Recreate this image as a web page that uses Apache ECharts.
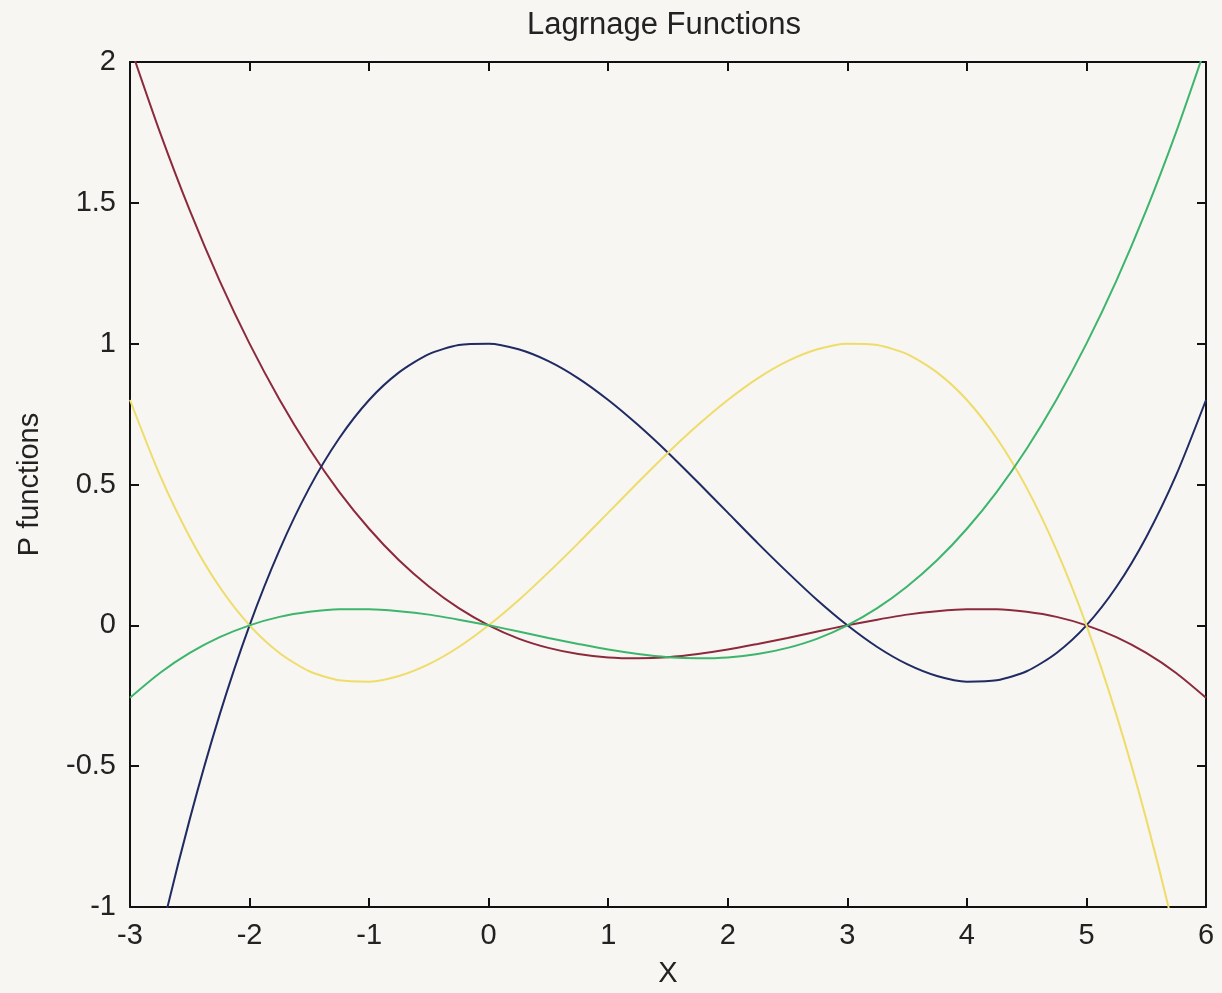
<!DOCTYPE html>
<html>
<head>
<meta charset="utf-8">
<title>Lagrnage Functions</title>
<script src="https://cdn.jsdelivr.net/npm/echarts@6/dist/echarts.min.js"></script>
<style>
  html, body { margin: 0; padding: 0; background: #f7f6f2; }
  #chart { width: 1222px; height: 993px; }
</style>
</head>
<body>
<div id="chart"></div>
<script>
// x samples read along the axis
var xs = [-3, -2.75, -2.5, -2.25, -2, -1.75, -1.5, -1.25, -1, -0.75, -0.5, -0.25, 0,
  0.25, 0.5, 0.75, 1, 1.25, 1.5, 1.75, 2, 2.25, 2.5, 2.75, 3, 3.25, 3.5, 3.75, 4,
  4.25, 4.5, 4.75, 5, 5.25, 5.5, 5.75, 6];

// red curve (starts high on the left)
var redVals = [2.057, 1.751, 1.473, 1.223, 1.0, 0.802, 0.627, 0.474, 0.343, 0.231, 0.138, 0.061, 0,
  -0.047, -0.080, -0.102, -0.114, -0.117, -0.113, -0.102, -0.086, -0.066, -0.045, -0.022, 0,
  0.020, 0.038, 0.050, 0.057, 0.057, 0.048, 0.030, 0, -0.042, -0.098, -0.169, -0.257];

// blue curve (peak 1 at x=0)
var blueVals = [-1.6, -1.114, -0.688, -0.317, 0, 0.267, 0.488, 0.664, 0.8, 0.898, 0.963, 0.995, 1,
  0.980, 0.938, 0.877, 0.8, 0.711, 0.613, 0.508, 0.4, 0.292, 0.188, 0.089, 0,
  -0.077, -0.138, -0.180, -0.2, -0.195, -0.163, -0.098, 0, 0.136, 0.313, 0.533, 0.8];

// yellow curve (peak 1 at x=3)
var yellowVals = [0.8, 0.533, 0.313, 0.136, 0, -0.098, -0.163, -0.195, -0.2, -0.180, -0.138, -0.077, 0,
  0.089, 0.188, 0.292, 0.4, 0.508, 0.613, 0.711, 0.8, 0.877, 0.938, 0.980, 1,
  0.995, 0.963, 0.898, 0.8, 0.664, 0.488, 0.267, 0, -0.317, -0.688, -1.114, -1.6];

// green curve (rises on the right)
var greenVals = [-0.257, -0.169, -0.098, -0.042, 0, 0.030, 0.048, 0.057, 0.057, 0.050, 0.038, 0.020, 0,
  -0.022, -0.045, -0.066, -0.086, -0.102, -0.113, -0.117, -0.114, -0.102, -0.080, -0.047, 0,
  0.061, 0.138, 0.231, 0.343, 0.474, 0.627, 0.802, 1.0, 1.223, 1.473, 1.751, 2.057];

function pairs(vals) {
  return xs.map(function (x, i) { return [x, vals[i]]; });
}

var font = 'Liberation Sans';
var ink = '#222';

var chart = echarts.init(document.getElementById('chart'));

function lineSeries(name, vals, color) {
  return {
    name: name,
    type: 'line',
    data: pairs(vals),
    smooth: 0.25,
    showSymbol: false,
    clip: true,
    lineStyle: { color: color, width: 2 },
    itemStyle: { color: color }
  };
}

var boxLine = { show: true, onZero: false, lineStyle: { color: '#111', width: 2 } };
var boxTick = { show: true, inside: true, length: 9, lineStyle: { color: '#111', width: 2 } };

chart.setOption({
  backgroundColor: '#f7f6f2',
  animation: false,
  title: {
    text: 'Lagrnage Functions',
    left: 522,
    top: 5,
    textStyle: { fontFamily: font, fontSize: 31, fontWeight: 'normal', color: ink }
  },
  grid: { left: 130, top: 62, width: 1076, height: 845 },
  xAxis: [{
    type: 'value',
    min: -3, max: 6, interval: 1,
    name: 'X',
    nameLocation: 'middle',
    nameGap: 52,
    nameTextStyle: { fontFamily: font, fontSize: 29, color: ink },
    axisLine: boxLine,
    axisTick: boxTick,
    axisLabel: { fontFamily: font, fontSize: 29, color: ink, margin: 14 },
    splitLine: { show: false }
  }, {
    type: 'value',
    position: 'top',
    min: -3, max: 6, interval: 1,
    axisLine: boxLine,
    axisTick: boxTick,
    axisLabel: { show: false },
    splitLine: { show: false }
  }],
  yAxis: [{
    type: 'value',
    min: -1, max: 2, interval: 0.5,
    name: 'P functions',
    nameLocation: 'middle',
    nameGap: 86,
    nameTextStyle: { fontFamily: font, fontSize: 29, color: ink },
    axisLine: boxLine,
    axisTick: boxTick,
    axisLabel: { fontFamily: font, fontSize: 29, color: ink, margin: 14 },
    splitLine: { show: false }
  }, {
    type: 'value',
    position: 'right',
    min: -1, max: 2, interval: 0.5,
    axisLine: boxLine,
    axisTick: boxTick,
    axisLabel: { show: false },
    splitLine: { show: false }
  }],
  series: [
    lineSeries('red', redVals, '#8c2a3c'),
    lineSeries('blue', blueVals, '#1f2b62'),
    lineSeries('yellow', yellowVals, '#eedd6a'),
    lineSeries('green', greenVals, '#3db56c')
  ]
});
</script>
</body>
</html>
